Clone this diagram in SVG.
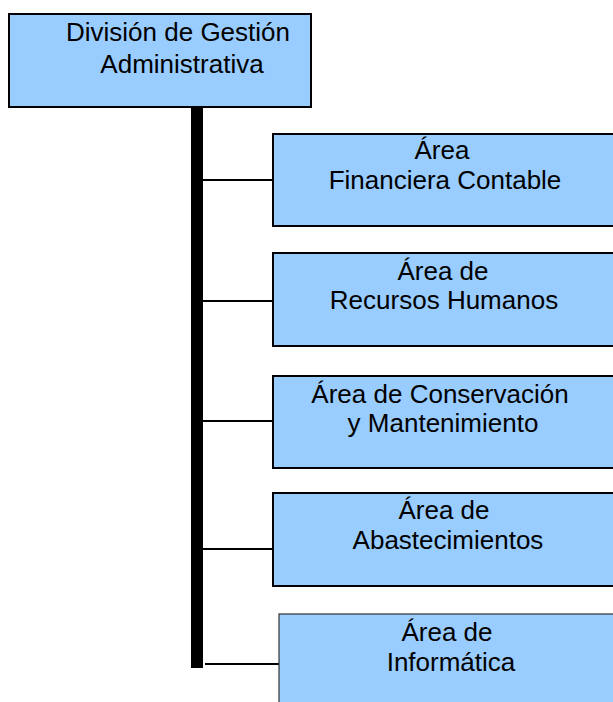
<svg xmlns="http://www.w3.org/2000/svg" width="613" height="702" viewBox="0 0 613 702">
<style>
.box{fill:#99CCFF;stroke:#000;stroke-width:2}
.box2{fill:#99CCFF;stroke:#333;stroke-width:1.2}
.t{font-family:"Liberation Sans",Arial,sans-serif;font-size:26px;fill:#000;text-anchor:middle}
.c{stroke:#000;stroke-width:2;fill:none}
</style>
<rect width="613" height="702" fill="#fff"/>
<g id="connectors">
<rect x="191" y="107" width="12" height="561" fill="#000"/>
<line class="c" x1="203" y1="180" x2="273" y2="180"/>
<line class="c" x1="203" y1="301" x2="273" y2="301" stroke-width="3"/>
<line class="c" x1="203" y1="421" x2="273" y2="421"/>
<line class="c" x1="203" y1="549" x2="273" y2="549"/>
<line class="c" x1="205" y1="664" x2="280" y2="664" stroke-width="1.5"/>
</g>
<g id="division">
<rect class="box" x="9" y="14" width="302" height="93"/>
<text class="t" x="178" y="41">División de Gestión</text>
<text class="t" x="182" y="73">Administrativa</text>
</g>
<g id="financiera">
<rect class="box" x="273" y="134" width="342" height="92"/>
<text class="t" x="442" y="159">Área</text>
<text class="t" x="445" y="189">Financiera Contable</text>
</g>
<g id="rrhh">
<rect class="box" x="273" y="253" width="342" height="93"/>
<text class="t" x="443" y="280">Área de</text>
<text class="t" x="444" y="309">Recursos Humanos</text>
</g>
<g id="conservacion">
<rect class="box" x="273" y="376" width="342" height="92"/>
<text class="t" x="440" y="403">Área de Conservación</text>
<text class="t" x="443" y="432">y Mantenimiento</text>
</g>
<g id="abastecimientos">
<rect class="box" x="273" y="493" width="342" height="93"/>
<text class="t" x="444" y="519">Área de</text>
<text class="t" x="448" y="549">Abastecimientos</text>
</g>
<g id="informatica">
<rect class="box2" x="279" y="614" width="340" height="100"/>
<text class="t" x="447" y="641">Área de</text>
<text class="t" x="451" y="671">Informática</text>
</g>
</svg>
